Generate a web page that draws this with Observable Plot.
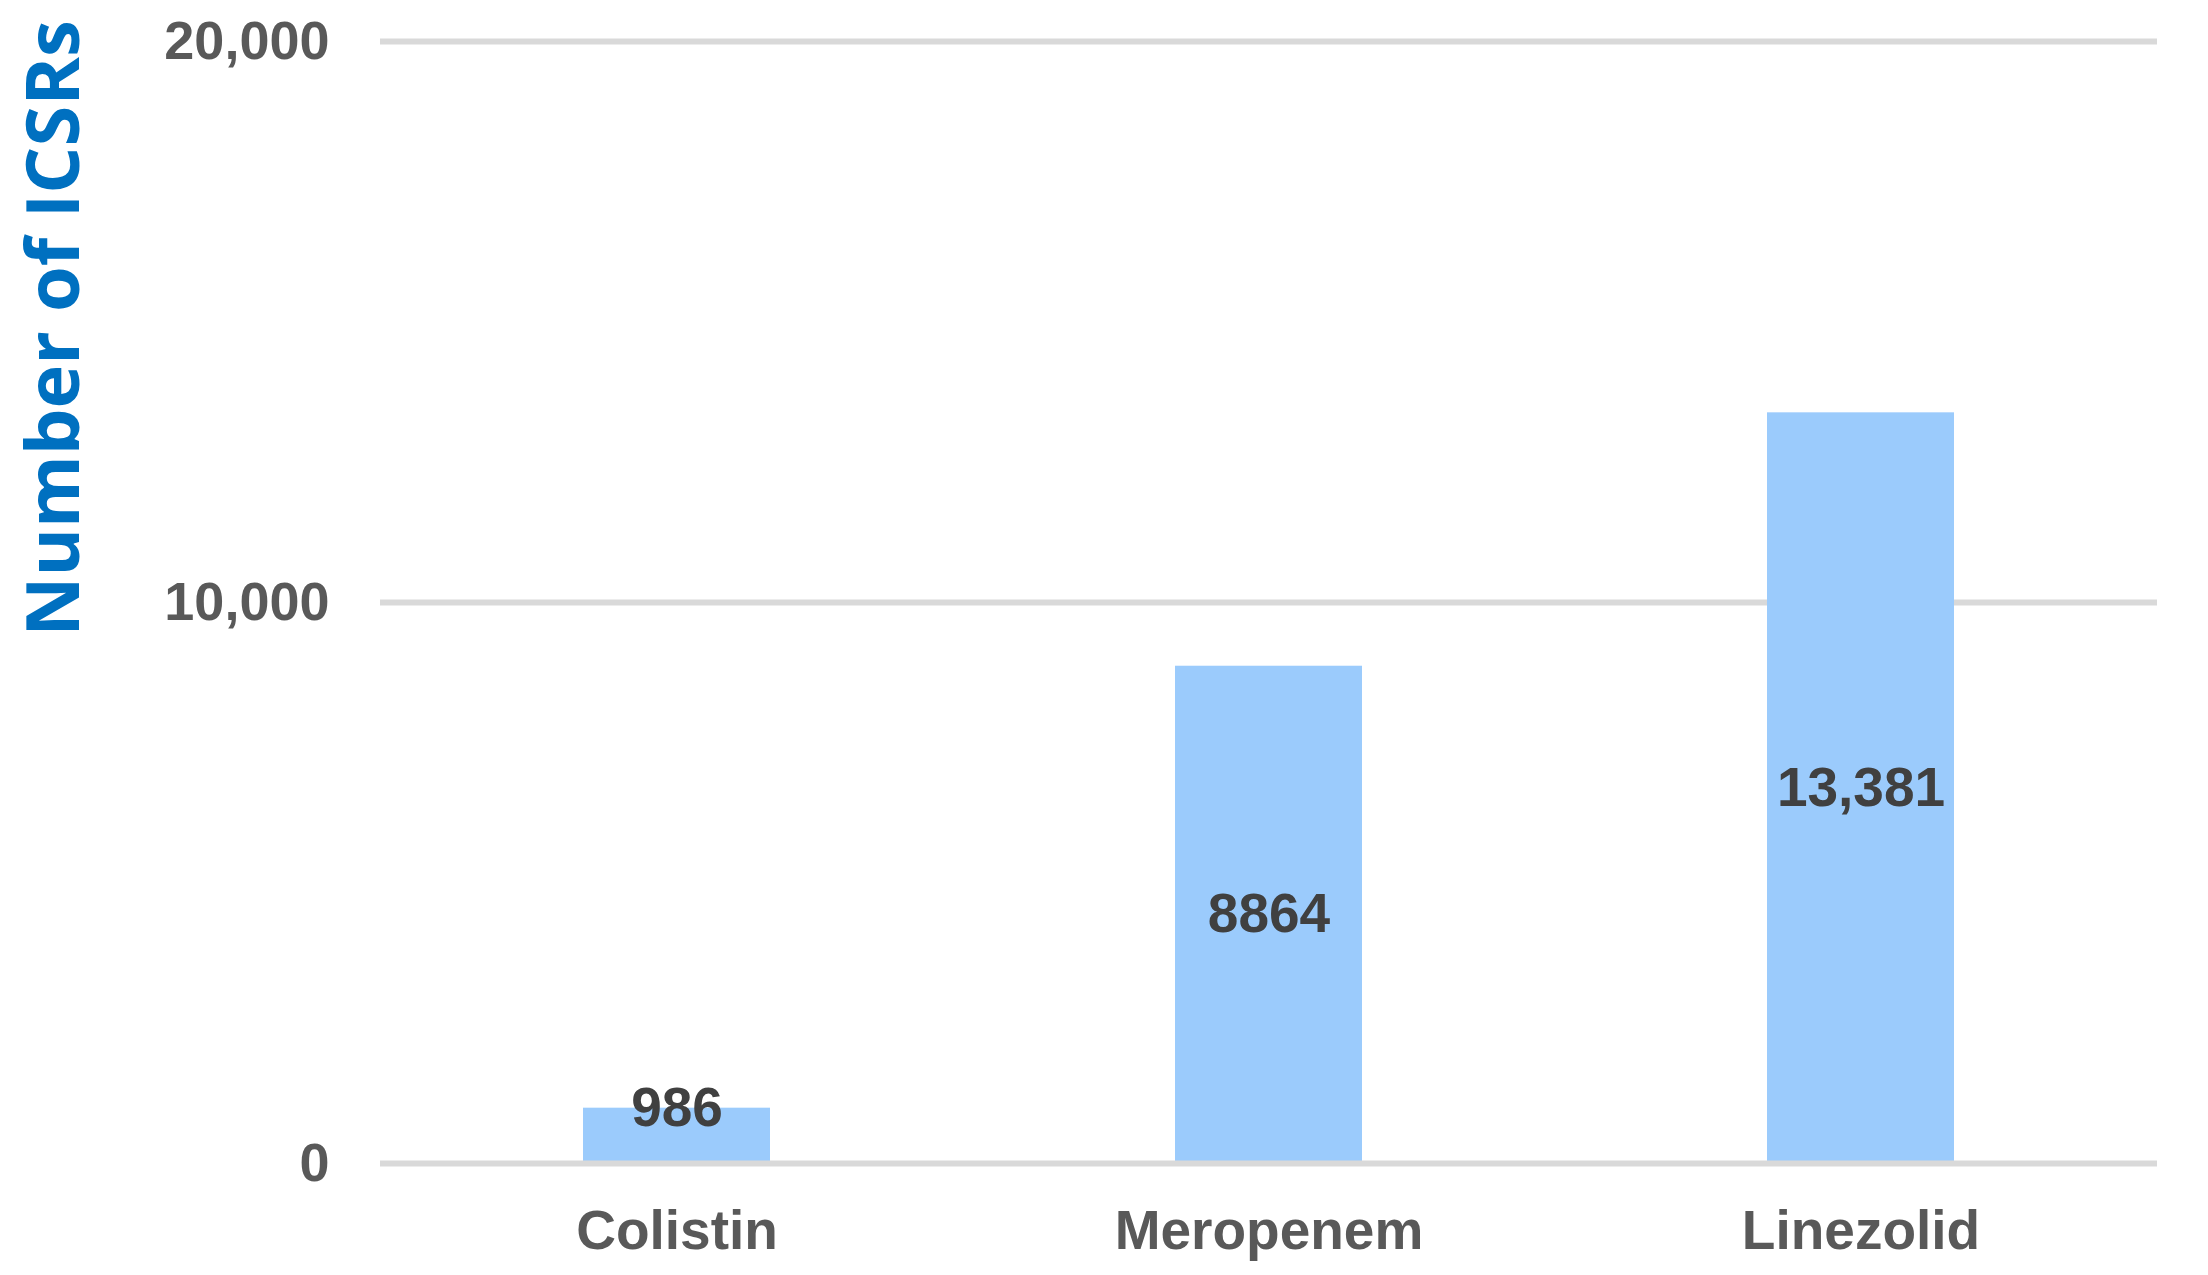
<!DOCTYPE html>
<html>
<head>
<meta charset="utf-8">
<script src="https://cdn.jsdelivr.net/npm/d3@7"></script>
<script src="https://cdn.jsdelivr.net/npm/@observablehq/plot@0.6"></script>
<style>
  html, body { margin: 0; padding: 0; background: #ffffff; }
  #chart { width: 2208px; height: 1275px; overflow: hidden; }
</style>
</head>
<body>
<div id="chart"></div>
<script>
const categories = ["Colistin", "Meropenem", "Linezolid"];
const values = [986, 8864, 13381];
const valueLabels = ["986", "8864", "13,381"];
const yTicks = [0, 10000, 20000];
const yTitle = "Number of ICSRs";

const data = categories.map((c, i) => ({
  category: c,
  value: values[i],
  label: valueLabels[i],
  labelY: values[i] < 2000 ? values[i] : values[i] / 2
}));

const chart = Plot.plot({
  width: 2208,
  height: 1275,
  marginLeft: 380,
  marginRight: 51,
  marginTop: 41,
  marginBottom: 112,
  style: {
    background: "#ffffff",
    fontFamily: "'Liberation Sans', Arial, sans-serif",
    fontWeight: "bold",
    color: "#595959"
  },
  x: { domain: categories, paddingInner: 0.684, paddingOuter: 0.342, axis: null },
  y: { domain: [0, 20000], axis: null },
  marks: [
    Plot.ruleY(yTicks.filter(t => t !== 0), { stroke: "#D9D9D9", strokeWidth: 6 }),
    Plot.barY(data, { x: "category", y: "value", fill: "#9BCBFC" }),
    Plot.ruleY([0], { stroke: "#D9D9D9", strokeWidth: 6 }),
    Plot.axisY({
      ticks: yTicks,
      tickFormat: d3.format(","),
      tickSize: 0,
      tickPadding: 51,
      fontSize: 54,
      fontWeight: "bold",
      fill: "#595959",
      label: null
    }),
    Plot.axisX({
      tickSize: 0,
      tickPadding: 46,
      fontSize: 55,
      fontWeight: "bold",
      fill: "#595959",
      label: null
    }),
    Plot.text(data, {
      x: "category",
      y: "labelY",
      text: "label",
      fill: "#404040",
      fontSize: 55,
      fontWeight: "bold",
      textAnchor: "middle",
      lineAnchor: "middle"
    }),
    Plot.text([yTitle], {
      frameAnchor: "top-left",
      dx: -325,
      dy: 287,
      rotate: -90,
      textAnchor: "middle",
      lineAnchor: "middle",
      fill: "#0070C0",
      fontSize: 74,
      fontWeight: 700,
      fontFamily: "'Open Sans', sans-serif"
    })
  ]
});

document.getElementById("chart").appendChild(chart);
</script>
</body>
</html>
